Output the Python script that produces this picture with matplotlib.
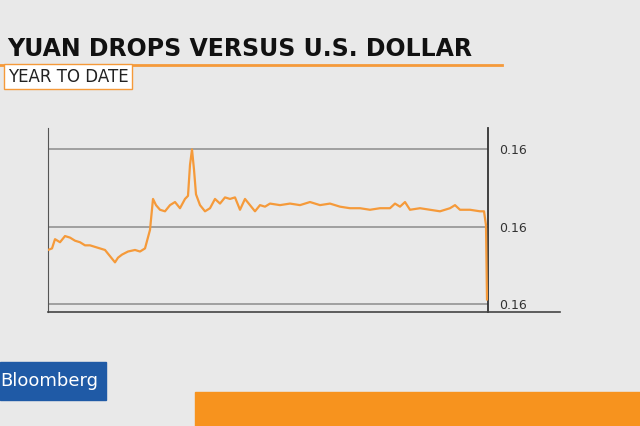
import matplotlib.pyplot as plt
from matplotlib.patches import Rectangle
from matplotlib.lines import Line2D

# trading day index and yuan level (in 1e-4 USD)
days = [0, 2, 3.5, 6, 8.5, 11, 13.5, 16, 18.5, 21, 23.5, 26, 28.5, 31, 33.5, 35, 37, 40,
        43.5, 46, 48.5, 51, 52.5, 54, 56, 58.5, 61, 63.5, 66, 68.5, 70, 71, 72, 73, 74,
        76, 78.5, 81, 83.5, 86, 88.5, 91, 93.5, 96, 98.5, 101, 103.5, 106, 108.5, 111,
        116, 121, 126, 131, 136, 141, 146, 151, 156, 161, 166, 171, 173.5, 176, 178.5,
        181, 186, 191, 196, 201, 203.5, 206, 211, 216, 218, 219, 219.5]
level = [1608.5, 1608.6, 1609.2, 1609.0, 1609.4, 1609.3, 1609.1, 1609.0, 1608.8, 1608.8,
         1608.7, 1608.6, 1608.5, 1608.1, 1607.7, 1608.0, 1608.2, 1608.4, 1608.5, 1608.4,
         1608.6, 1609.8, 1611.8, 1611.4, 1611.1, 1611.0, 1611.4, 1611.6, 1611.2, 1611.8,
         1612.0, 1614.0, 1615.0, 1613.7, 1612.1, 1611.4, 1611.0, 1611.2, 1611.8, 1611.5,
         1611.9, 1611.8, 1611.9, 1611.1, 1611.8, 1611.4, 1611.0, 1611.4, 1611.3, 1611.5,
         1611.4, 1611.5, 1611.4, 1611.6, 1611.4, 1611.5, 1611.3, 1611.2, 1611.2, 1611.1,
         1611.2, 1611.2, 1611.5, 1611.3, 1611.6, 1611.1, 1611.2, 1611.1, 1611.0, 1611.2,
         1611.4, 1611.1, 1611.1, 1611.0, 1611.0, 1610.1, 1605.3]
grid_levels = [1615, 1610, 1605]
tick_labels = ['0.16', '0.16', '0.16']

fig = plt.figure(figsize=(6.4, 4.26), dpi=100)
fig.patch.set_facecolor('#e9e9e9')

ax = fig.add_axes([0.075, 0.268, 0.6875, 0.432])
ax.set_facecolor('none')
ax.plot(days, level, color='#f59a3a', lw=1.6, zorder=3)
for g in grid_levels:
    ax.axhline(g, color='#9a9a9a', lw=1.3, zorder=1)
ax.set_xlim(0, 220)
ax.set_ylim(1604.5, 1616.4)
for s in ['top', 'bottom']:
    ax.spines[s].set_visible(False)
ax.spines['left'].set_color('#555555')
ax.spines['right'].set_color('#333333')
ax.spines['right'].set_linewidth(1.3)
ax.set_xticks([])
ax.yaxis.tick_right()
ax.set_yticks(grid_levels)
ax.set_yticklabels(tick_labels, fontsize=9, color='#333333')
ax.tick_params(axis='y', length=0, pad=8)

# bottom baseline extends past the right axis
fig.lines.append(Line2D([0.075, 0.875], [0.268, 0.268], transform=fig.transFigure,
                        color='#444444', lw=1.2))

fig.text(0.012, 0.885, 'YUAN DROPS VERSUS U.S. DOLLAR', fontsize=17, fontweight='bold',
         color='#111111', va='center')
fig.lines.append(Line2D([0, 0.785], [0.848, 0.848], transform=fig.transFigure,
                        color='#f59a3a', lw=2))
fig.text(0.012, 0.82, 'YEAR TO DATE', fontsize=12, color='#222222', va='center',
         bbox=dict(boxstyle='square,pad=0.2', fc='white', ec='#f59a3a', lw=1))

fig.patches.append(Rectangle((0, 0.06), 0.165, 0.09, transform=fig.transFigure,
                             color='#1f5aa6'))
fig.text(0.0, 0.105, 'Bloomberg', fontsize=13, color='white', va='center')
fig.patches.append(Rectangle((0.305, 0), 0.695, 0.08, transform=fig.transFigure,
                             color='#f7931e'))

fig.savefig('out.png', dpi=100)
